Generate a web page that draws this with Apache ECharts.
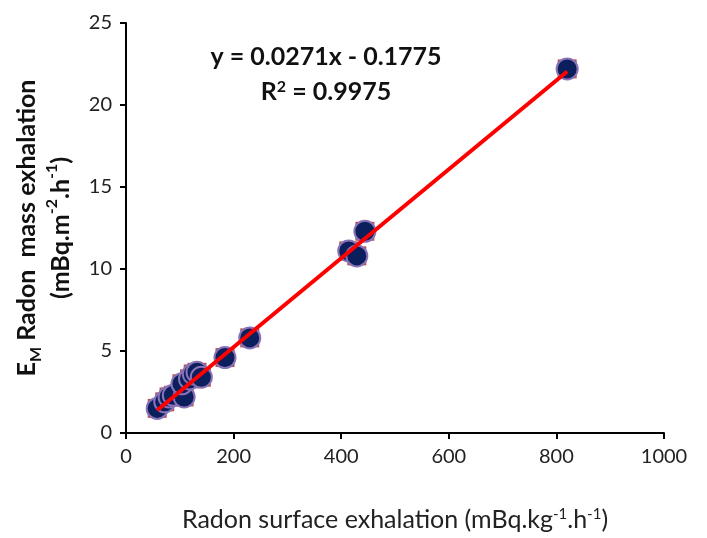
<!DOCTYPE html>
<html><head><meta charset="utf-8">
<script src="https://cdn.jsdelivr.net/npm/echarts@6/dist/echarts.min.js"></script>
<style>html,body{margin:0;padding:0;background:#fff}#c{width:707px;height:538px}</style>
</head><body><div id="c"></div>
<script>
const surfaceX = [58, 72, 80, 88, 108, 104, 118, 125, 132, 140, 184, 230, 414, 429, 444, 820];
const massY    = [1.5, 1.9, 2.2, 2.3, 2.2, 3.0, 3.3, 3.6, 3.7, 3.4, 4.6, 5.8, 11.1, 10.8, 12.3, 22.2];
const trendX = [58, 820];
const trendY = [1.39, 22.04];
const xTicks = [0, 200, 400, 600, 800, 1000];
const yTicks = [0, 5, 10, 15, 20, 25];
const eqLine1 = 'y = 0.0271x - 0.1775';
const eqLine2 = '0.9975';

const pts = surfaceX.map((x, i) => [x, massY[i]]);
const trend = trendX.map((x, i) => [x, trendY[i]]);
const FONT = 'Lato, "Open Sans", sans-serif';

const chart = echarts.init(document.getElementById('c'), null, {renderer: 'canvas'});
chart.setOption({
  animation: false,
  backgroundColor: '#fff',
  grid: {left: 126, right: 43, top: 23, bottom: 105, containLabel: false},
  xAxis: {
    type: 'value', min: xTicks[0], max: xTicks[xTicks.length - 1], interval: xTicks[1] - xTicks[0],
    axisLine: {show: true, lineStyle: {color: '#000', width: 2}},
    axisTick: {show: true, length: 6, lineStyle: {color: '#000', width: 2}},
    splitLine: {show: false},
    axisLabel: {color: '#222', fontSize: 20, fontFamily: FONT, margin: 14, formatter: v => String(v)},
    name: '{n|Radon surface exhalation (mBq.kg}{s|-1}{n|.h}{s|-1}{n|)}',
    nameLocation: 'middle', nameGap: 74,
    nameTextStyle: {rich: {
      n: {fontSize: 25, fontFamily: FONT, color: '#222'},
      s: {fontSize: 15, fontFamily: FONT, color: '#222', verticalAlign: 'top', padding: [0,0,10,0]}
    }}
  },
  yAxis: {
    type: 'value', min: yTicks[0], max: yTicks[yTicks.length - 1], interval: yTicks[1] - yTicks[0],
    axisLine: {show: true, lineStyle: {color: '#000', width: 2}},
    axisTick: {show: true, length: 6, lineStyle: {color: '#000', width: 2}},
    splitLine: {show: false},
    axisLabel: {color: '#222', fontSize: 20, fontFamily: FONT, margin: 14, formatter: v => String(v)},
    name: '{b|E}{sb|M}{b| Radon  mass exhalation}\n{b|(mBq.m}{sp|-2}{b|.h}{sp|-1}{b|)}',
    nameLocation: 'middle', nameGap: 47, nameRotate: 90,
    nameTextStyle: {lineHeight: 34, rich: {
      b: {fontSize: 25, fontWeight: 'bold', fontFamily: FONT, color: '#111', lineHeight: 34},
      sb: {fontSize: 16, fontWeight: 'bold', fontFamily: FONT, color: '#111', verticalAlign: 'bottom', padding: [10,0,0,0], lineHeight: 34},
      sp: {fontSize: 16, fontWeight: 'bold', fontFamily: FONT, color: '#111', verticalAlign: 'top', padding: [0,0,6,0], lineHeight: 30}
    }}
  },
  series: [
    {type: 'scatter', data: pts, symbol: 'rect', symbolSize: 19, z: 2,
     itemStyle: {color: '#b4534e', opacity: 1}},
    {type: 'scatter', data: pts, symbol: 'circle', symbolSize: 21, z: 3,
     itemStyle: {color: '#0a1f5c', borderColor: '#8a72b8', borderWidth: 2, opacity: 1}},
    {type: 'line', data: trend, showSymbol: false, symbol: 'none', z: 4,
     lineStyle: {color: '#ff0000', width: 4}}
  ],
  graphic: [
    {type: 'text', x: 326, y: 57, style: {text: eqLine1, align: 'center', verticalAlign: 'middle',
      font: 'bold 25px ' + FONT, fill: '#111'}},
    {type: 'text', x: 326, y: 92, style: {
      text: '{b|R}{s|2}{b| = ' + eqLine2 + '}', align: 'center', verticalAlign: 'middle',
      rich: {b: {font: 'bold 25px ' + FONT, fill: '#111'}, s: {font: 'bold 16px ' + FONT, fill: '#111', verticalAlign: 'top', padding: [0,0,10,0]}}
    }}
  ]
});
</script></body></html>
